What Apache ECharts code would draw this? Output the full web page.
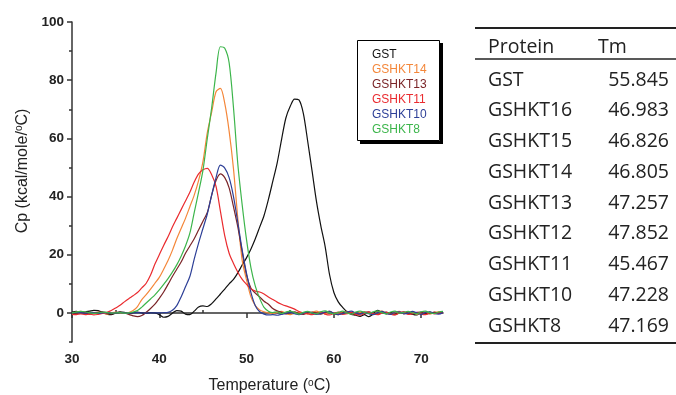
<!DOCTYPE html>
<html>
<head>
<meta charset="utf-8">
<script src="https://cdn.jsdelivr.net/npm/echarts@6/dist/echarts.min.js"></script>
<style>
html, body { margin: 0; padding: 0; background: #fff; }
#chart { width: 676px; height: 395px; }
</style>
</head>
<body>
<div id="chart"></div>
<script>
// temperature grid (°C)
const temperature = [
    30, 30.5, 31, 31.5, 32, 32.5, 33, 33.5, 34, 34.5,
    35, 35.5, 36, 36.5, 37, 37.5, 38, 38.5, 39, 39.5,
    40, 40.5, 41, 41.5, 42, 42.5, 43, 43.5, 44, 44.5,
    45, 45.5, 46, 46.5, 47, 47.5, 48, 48.5, 49, 49.5,
    50, 50.5, 51, 51.5, 52, 52.5, 53, 53.5, 54, 54.5,
    55, 55.5, 56, 56.5, 57, 57.5, 58, 58.5, 59, 59.5,
    60, 60.5, 61, 61.5, 62, 62.5, 63, 63.5, 64, 64.5,
    65, 65.5, 66, 66.5, 67, 67.5, 68, 68.5, 69, 69.5,
    70, 70.5, 71, 71.5, 72, 72.5
];

// Cp (kcal/mole/°C) per protein
const cpGST = [
    0.3, 0.5, 0.2, 0.3, 0.6, 0.9, 0.8, 0.2, -0.4, -0.6,
    0.0, 0.4, 0.2, -0.2, 0.1, 0.3, 0.0, -0.2, 0.1, 0.0,
    -0.6, -1.5, -1.2, -0.1, 0.8, 0.6, -0.4, -0.6, 0.6, 2.0,
    2.4, 2.2, 3.2, 4.8, 6.5, 8.2, 10.0, 11.5, 13.8, 16.5,
    19.0, 22.0, 25.5, 29.5, 33.5, 39.0, 45.2, 51.5, 59.5, 67.0,
    71.0, 73.5, 73.2, 68.6, 59.0, 48.8, 38.4, 30.0, 22.8, 13.2,
    7.0, 3.8, 1.9, 0.4, -0.5, -0.8, -1.2, -0.6, -1.3, -0.4,
    0.9, 0.2, -0.3, 0.1, -0.5, 0.3, -0.2, 0.4, -0.4, -0.7,
    0.1, -0.3, 0.3, -0.2, 0.2, 0.1
];
const cpGSHKT14 = [
    -0.2, 0.3, 0.5, 0.2, -0.3, -0.1, 0.3, 0.0, -0.4, 0.0,
    0.3, 0.0, -0.2, 0.1, 0.8, 2.2, 4.6, 6.3, 8.2, 10.2,
    12.2, 15.0, 18.0, 21.5, 25.5, 29.0, 32.5, 36.5, 40.5, 45.5,
    52.0, 62.0, 69.0, 76.0, 77.2, 72.0, 62.5, 49.5, 32.3, 18.0,
    11.3, 5.5, 2.5, 1.0, 0.4, 0.0, -0.3, 0.2, 0.5, -0.2,
    -0.6, -0.1, 0.3, 0.0, -0.4, 0.2, 0.6, 0.1, -0.3, 0.3,
    0.0, -0.5, 0.2, 0.5, -0.2, -0.6, 0.1, 0.4, -0.1, -0.5,
    0.3, 0.6, -0.2, -0.4, 0.2, 0.5, -0.3, 0.1, 0.4, -0.5,
    0.0, 0.3, -0.4, 0.2, 0.4, -0.1
];
const cpGSHKT13 = [
    -0.3, -0.1, 0.2, 0.0, -0.4, -0.2, 0.2, 0.4, 0.0, -0.3,
    -0.1, 0.2, 0.0, -0.5, -1.0, -1.3, -0.9, 0.2, 1.5, 3.0,
    5.0, 7.2, 9.8, 12.5, 15.0, 17.5, 20.5, 23.0, 25.5, 28.5,
    31.5, 34.5, 40.5, 45.5, 47.8, 46.5, 43.0, 36.5, 29.5, 21.0,
    13.0, 8.5, 6.8, 5.5, 4.0, 3.0, 1.5, 0.7, 0.2, -0.3,
    0.1, 0.4, -0.2, -0.5, 0.0, 0.3, -0.1, -0.4, 0.2, 0.5,
    -0.3, -0.6, 0.0, 0.3, -0.2, -0.7, -0.3, 0.2, 0.4, -0.2,
    -0.5, 0.1, 0.3, -0.3, -0.6, 0.0, 0.4, -0.1, -0.5, 0.2,
    0.3, -0.4, -0.2, 0.3, -0.1, 0.2
];
const cpGSHKT11 = [
    -0.5, -0.6, -0.3, -0.6, -0.4, -0.7, -0.5, -0.2, 0.2, 0.8,
    1.7, 2.6, 3.8, 4.9, 5.9, 7.0, 8.6, 10.2, 13.0, 16.8,
    20.0, 23.2, 26.2, 29.5, 32.5, 35.5, 38.5, 41.5, 45.0, 47.8,
    49.2, 49.7, 47.5, 43.5, 35.0, 26.5, 20.5, 17.0, 14.0, 11.5,
    9.8, 8.3, 7.5, 7.2, 6.5, 5.5, 4.6, 3.7, 3.0, 2.4,
    1.9, 1.3, 0.5, 0.0, -0.3, -0.6, -0.2, 0.3, -0.4, -0.7,
    -0.2, 0.3, -0.5, -0.3, 0.2, -0.4, -0.8, -0.2, 0.3, -0.3,
    -0.6, -0.1, 0.2, -0.4, -0.7, 0.0, 0.3, -0.5, -0.2, 0.1,
    -0.4, -0.6, 0.1, -0.3, 0.0, -0.2
];
const cpGSHKT10 = [
    0.0, 0.2, 0.1, -0.1, 0.1, 0.0, -0.2, 0.0, 0.1, -0.1,
    0.0, 0.1, 0.0, -0.1, 0.0, 0.1, 0.0, -0.1, 0.0, 0.0,
    0.0, 0.1, 0.2, 0.9, 2.5, 5.5, 9.0, 12.5, 18.5, 24.0,
    29.0, 34.0, 40.5, 46.5, 50.8, 49.8, 46.5, 40.0, 31.0, 21.5,
    13.5, 7.0, 2.5, 0.4, -0.4, -0.7, -0.6, -0.8, -0.5, -0.2,
    0.2, -0.3, -0.6, -0.1, 0.4, 0.0, -0.5, -0.3, 0.3, 0.5,
    -0.1, -0.6, -0.2, 0.3, 0.6, 0.0, -0.4, 0.2, -0.3, -0.6,
    0.1, 0.5, -0.2, -0.5, 0.3, 0.4, -0.3, -0.1, 0.5, 0.0,
    -0.5, 0.2, 0.4, -0.2, -0.4, 0.1
];
const cpGSHKT8 = [
    0.0, 0.3, 0.5, 0.4, 0.1, -0.2, 0.0, 0.3, 0.2, -0.1,
    0.0, 0.1, -0.1, 0.0, 0.3, 0.8, 2.0, 3.4, 4.8, 6.2,
    7.9, 9.8, 11.8, 14.0, 16.5, 19.5, 23.0, 27.4, 34.5, 41.5,
    49.0, 60.0, 70.5, 82.5, 91.5, 91.0, 86.0, 70.5, 51.0, 37.0,
    25.0, 15.5, 9.2, 5.0, 1.9, 0.6, 0.1, 0.4, -0.2, 0.3,
    0.6, 0.1, -0.4, 0.2, 0.5, 0.0, -0.3, 0.4, 0.7, 0.1,
    -0.3, 0.2, 0.6, 0.0, -0.4, 0.3, 0.6, 0.2, -0.2, 0.4,
    0.7, 0.1, -0.3, 0.3, 0.6, -0.1, 0.2, 0.5, 0.0, -0.3,
    0.4, 0.6, 0.0, -0.2, 0.3, 0.5
];

const seriesNames = ['GST', 'GSHKT14', 'GSHKT13', 'GSHKT11', 'GSHKT10', 'GSHKT8'];
const seriesValues = [cpGST, cpGSHKT14, cpGSHKT13, cpGSHKT11, cpGSHKT10, cpGSHKT8];
const seriesColors = ['#111111', '#f4873a', '#7a2427', '#ea2b2f', '#2d3f97', '#3cb54b'];

// axis ticks
const xMajorTicks = [30, 40, 50, 60, 70];
const xMinorTicks = [35, 45, 55, 65];
const yMajorTicks = [0, 20, 40, 60, 80, 100];
const yMinorTicks = [-10, 10, 30, 50, 70, 90];

// Tm table
const tableProteins = ['GST', 'GSHKT16', 'GSHKT15', 'GSHKT14', 'GSHKT13', 'GSHKT12', 'GSHKT11', 'GSHKT10', 'GSHKT8'];
const tableTm = [55.845, 46.983, 46.826, 46.805, 47.257, 47.852, 45.467, 47.228, 47.169];

const chart = echarts.init(document.getElementById('chart'));

const axisFont = 'Liberation Sans';
const tableFont = '19.5px "Open Sans"';
const tickLabel = {
    fontFamily: axisFont,
    fontSize: 13.5,
    fontWeight: 'bold',
    color: '#222'
};

const graphics = [];
// legend frame with a drop shadow on the right and bottom
graphics.push({
    type: 'rect',
    id: 'legendBox',
    z: 4,
    shape: { x: 357.5, y: 40.5, width: 82, height: 100 },
    style: { fill: '#fff', stroke: '#000', lineWidth: 1 }
});
graphics.push({
    type: 'rect',
    id: 'shadowRight',
    z: 30,
    shape: { x: 440, y: 43, width: 3, height: 101 },
    style: { fill: '#000' }
});
graphics.push({
    type: 'rect',
    id: 'shadowBottom',
    z: 30,
    shape: { x: 360, y: 141, width: 83, height: 3 },
    style: { fill: '#000' }
});
const tableLine = (y, w) => ({
    type: 'line',
    shape: { x1: 475, y1: y, x2: 676, y2: y },
    style: { stroke: '#222', lineWidth: w }
});
graphics.push(tableLine(28, 2), tableLine(59, 1.5), tableLine(343, 2));
graphics.push({
    type: 'text', x: 488, y: 47,
    style: { text: 'Protein', font: tableFont, fill: '#222', verticalAlign: 'middle' }
});
graphics.push({
    type: 'text', x: 598, y: 47,
    style: { text: 'Tm', font: tableFont, fill: '#222', verticalAlign: 'middle' }
});
tableProteins.forEach((p, i) => {
    const yc = 80 + 30.75 * i;
    graphics.push({
        type: 'text', x: 488, y: yc,
        style: { text: p, font: tableFont, fill: '#222', verticalAlign: 'middle' }
    });
    graphics.push({
        type: 'text', x: 669, y: yc,
        style: { text: tableTm[i].toFixed(3), font: tableFont, fill: '#222', align: 'right', verticalAlign: 'middle' }
    });
});

const supStyle = { fontFamily: axisFont, fontSize: 10, verticalAlign: 'top', padding: [0, 0, 6, 0] };

const option = {
    animation: false,
    backgroundColor: '#fff',
    grid: {
        left: 72,
        right: 233,
        top: 22,
        bottom: 53,
        outerBoundsMode: 'none'
    },
    legend: {
        orient: 'vertical',
        left: 357,
        top: 40,
        z: 20,
        icon: 'none',
        itemWidth: 0,
        itemHeight: 10,
        itemGap: 1,
        padding: [8, 14, 6, 10],
        selectedMode: false,
        textStyle: {
            fontFamily: axisFont,
            fontSize: 12,
            lineHeight: 14
        },
        data: seriesNames.map((n, i) => ({
            name: n,
            textStyle: { color: seriesColors[i] }
        }))
    },
    xAxis: [{
        type: 'value',
        min: 30,
        max: 72.5,
        name: 'Temperature ({sup|o}C)',
        nameLocation: 'middle',
        nameGap: 36,
        nameTextStyle: {
            fontFamily: axisFont,
            fontSize: 16,
            color: '#222',
            padding: [0, 0, 0, 24],
            rich: { sup: supStyle }
        },
        axisLine: { lineStyle: { color: '#333', width: 1.5 } },
        axisTick: { customValues: xMajorTicks, length: 5, lineStyle: { color: '#333', width: 1.5 } },
        axisLabel: { customValues: xMajorTicks, margin: 10, ...tickLabel },
        splitLine: { show: false }
    }, {
        type: 'value',
        min: 30,
        max: 72.5,
        axisLine: { show: false },
        axisTick: { customValues: xMinorTicks, length: 3, lineStyle: { color: '#333', width: 1.5 } },
        axisLabel: { show: false },
        splitLine: { show: false }
    }],
    yAxis: [{
        type: 'value',
        min: -10,
        max: 100,
        name: 'Cp (kcal/mole/{sup|o}C)',
        nameLocation: 'middle',
        nameGap: 38,
        nameTextStyle: {
            fontFamily: axisFont,
            fontSize: 16,
            color: '#222',
            padding: [0, 0, 0, 22],
            rich: { sup: supStyle }
        },
        axisLine: { show: true, lineStyle: { color: '#333', width: 1.5 } },
        axisTick: { customValues: yMajorTicks, length: 5, lineStyle: { color: '#333', width: 1.5 } },
        axisLabel: { customValues: yMajorTicks, margin: 8, ...tickLabel },
        splitLine: { show: false }
    }, {
        type: 'value',
        min: -10,
        max: 100,
        position: 'left',
        axisLine: { show: false },
        axisTick: { show: true, customValues: yMinorTicks, length: 3, lineStyle: { color: '#333', width: 1.5 } },
        axisLabel: { show: false },
        splitLine: { show: false }
    }],
    series: seriesNames.map((n, i) => ({
        name: n,
        type: 'line',
        xAxisIndex: 0,
        yAxisIndex: 0,
        smooth: 0.3,
        showSymbol: false,
        color: seriesColors[i],
        lineStyle: { color: seriesColors[i], width: 1.2 },
        data: temperature.map((t, k) => [t, seriesValues[i][k]])
    })),
    graphic: { elements: graphics }
};

chart.setOption(option);
</script>
</body>
</html>
